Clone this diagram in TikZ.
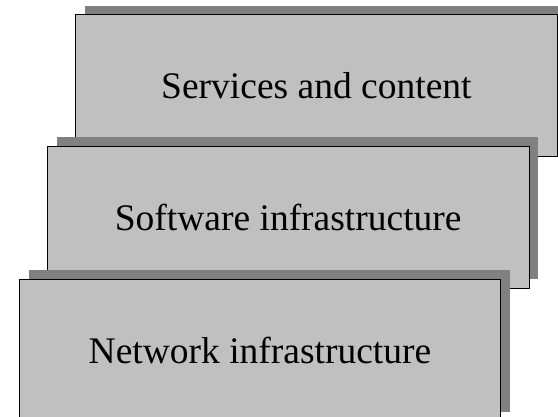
\documentclass[tikz,border=0pt]{standalone}
\usepackage{fontspec}
\setmainfont{Liberation Serif}
\usetikzlibrary{shadows}
\definecolor{boxgray}{HTML}{C0C0C0}
\definecolor{shadowgray}{HTML}{808080}
\begin{document}
\begin{tikzpicture}[x=1pt,y=-1pt,
  layer/.style={draw=black, line width=0.8pt, fill=boxgray,
    minimum width=481.5pt, minimum height=142pt, inner sep=0pt,
    font=\fontsize{37.5}{40}\selectfont,
    drop shadow={shadow xshift=9.5pt, shadow yshift=9pt, fill=shadowgray, opacity=1}}]
\useasboundingbox (0,0) rectangle (558,417);
\clip (0,0) rectangle (558,417);
\fill[white] (0,0) rectangle (558,417);
\node[layer] (services) at (316.4,85.7) {Services and content};
\node[layer] (software) at (288.2,217.5) {Software infrastructure};
\node[layer] (network) at (260,350.5) {Network infrastructure};
\end{tikzpicture}
\end{document}
